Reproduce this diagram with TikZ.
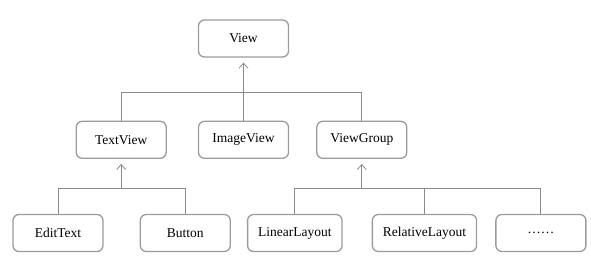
\documentclass[tikz,border=0pt]{standalone}
\usepackage{fontspec}
\setmainfont{Liberation Serif}
\usepackage{xcolor}
\usepackage{tikz}
\usetikzlibrary{arrows.meta,positioning}
\definecolor{boxgray}{HTML}{9C9C9C}
\definecolor{linkgray}{HTML}{8A8A8A}

\begin{document}
\begin{tikzpicture}[x=1pt,y=-1pt,
  box/.style={rounded corners=6pt,draw=boxgray,line width=1.3pt,fill=white,minimum width=90pt,minimum height=37pt,inner xsep=10.5pt,align=center,font=\fontsize{13.5}{16}\selectfont},
  link/.style={draw=linkgray,line width=0.8pt},
  >={Straight Barb[length=5pt,width=9pt]}]
  \useasboundingbox (0,0) rectangle (591,262);
  \node[box] (view) at (243.5,38.5) {View};
  \node[box,below=63pt of view] (image) {ImageView};
  \node[box,left=31pt of image] (text) {TextView};
  \node[box,right=27pt of image] (group) {ViewGroup};
  \node[box] (edit) at (58,233) {EditText};
  \node[box,right=36pt of edit] (button) {Button};
  \node[box,right=16pt of button] (linear) {LinearLayout};
  \node[box,right=29pt of linear] (relative) {RelativeLayout};
  \node[box,right=18pt of relative] (etc) {……};
  \draw[link] (text.north) -- ++(0,-28) coordinate (high) -| (group.north);
  \draw[link,->,shorten >=5pt] (image.north) -- (view.south);
  \draw[link] (edit.north) -- ++(0,-25) coordinate (lowA) -| (button.north);
  \draw[link,->,shorten >=5pt] (lowA -| text.south) -- (text.south);
  \draw[link] (linear.north) -- ++(0,-25) coordinate (lowB) -| (etc.north);
  \draw[link] (lowB -| relative.north) -- (relative.north);
  \draw[link,->,shorten >=5pt] (lowB -| group.south) -- (group.south);
\end{tikzpicture}
\end{document}
